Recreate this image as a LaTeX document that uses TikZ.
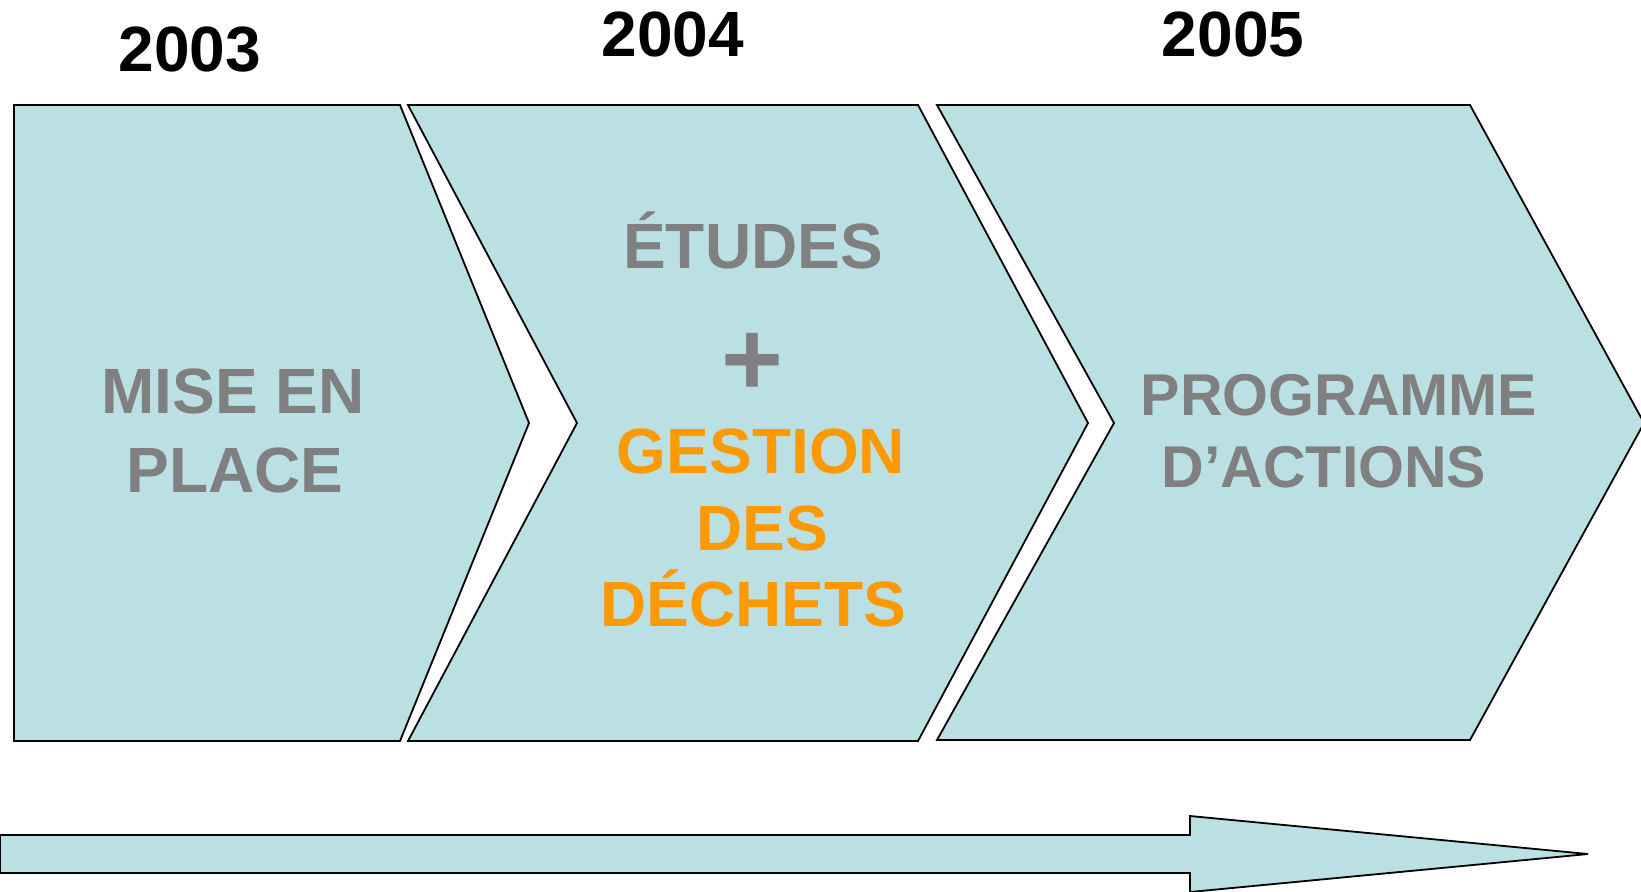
\documentclass[tikz,border=0pt]{standalone}
\usepackage{fontspec}
\setmainfont{Liberation Sans}
\definecolor{boxfill}{HTML}{BAE0E3}
\definecolor{txtgray}{HTML}{808080}
\definecolor{txtorange}{HTML}{FF9900}
\begin{document}
\begin{tikzpicture}[x=0.5pt,y=-0.5pt,
  chev/.style={fill=boxfill,draw=black,line width=0.9pt,line join=miter},
  year/.style={anchor=base,inner sep=0pt,font=\fontsize{32}{38}\selectfont\bfseries,text=black},
  graytxt/.style={anchor=base,inner sep=0pt,font=\fontsize{32}{38}\selectfont\bfseries,text=txtgray},
  graysm/.style={anchor=base,inner sep=0pt,font=\fontsize{29.5}{35}\selectfont\bfseries,text=txtgray},
  orangetxt/.style={anchor=base,inner sep=0pt,font=\fontsize{32}{38}\selectfont\bfseries,text=txtorange},
  plustxt/.style={anchor=center,inner sep=0pt,font=\fontsize{53}{60}\selectfont\bfseries,text=txtgray}]
\useasboundingbox (0,0) rectangle (1641,891);
\begin{scope}
\clip (0,0) rectangle (1641,891);
% chevrons
\draw[chev] (14,105) -- (400,105) -- (529,423) -- (400,741) -- (14,741) -- cycle;
\draw[chev] (408,105) -- (918,105) -- (1088,423) -- (918,741) -- (408,741) -- (577,423) -- cycle;
\draw[chev] (937,105) -- (1470,105) -- (1644,423) -- (1470,740) -- (937,740) -- (1114,423) -- cycle;
% bottom arrow
\draw[chev] (0,835) -- (1190,835) -- (1190,816) -- (1588,854) -- (1190,892) -- (1190,873) -- (0,873) -- cycle;
\end{scope}
% years
\node[year] (y2003) at (190,71) {2003};
\node[year] (y2004) at (673,56) {2004};
\node[year] (y2005) at (1233,56) {2005};
% box 1
\node[graytxt] (mise) at (233,413) {MISE EN};
\node[graytxt] (place) at (235,492) {PLACE};
% box 2
\node[graytxt] (etudes) at (753,268) {ÉTUDES};
\node[plustxt] (plus) at (752,364) {+};
\node[orangetxt] (gestion) at (761,473) {GESTION};
\node[orangetxt] (des) at (762,550) {DES};
\node[orangetxt] (dechets) at (753,626) {DÉCHETS};
% box 3
\node[graysm] (programme) at (1339,415) {PROGRAMME};
\node[graysm] (dactions) at (1324,487) {D’ACTIONS};
\end{tikzpicture}
\end{document}
